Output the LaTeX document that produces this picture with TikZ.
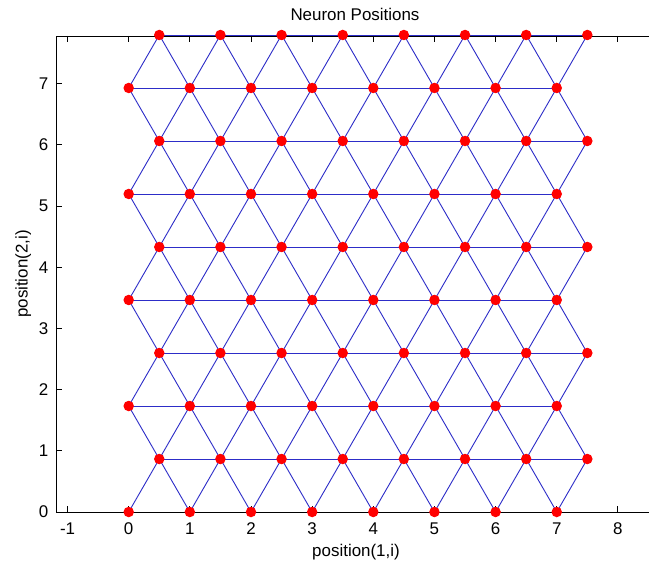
\documentclass[tikz,border=0pt]{standalone}
\usepackage{fontspec}
\setmainfont{Liberation Sans}
\pgfdeclarelayer{bg}
\pgfdeclarelayer{edges}
\pgfsetlayers{bg,edges,main}
\definecolor{edgeblue}{RGB}{45,45,200}
\tikzset{
  neuron/.style={circle,fill=red,inner sep=0pt,minimum size=10.5bp},
  edge/.style={draw=edgeblue,line width=0.9bp},
  axisline/.style={draw=black,line width=0.9bp},
  lbl/.style={inner sep=0pt,font=\fontsize{17}{19}\selectfont},
}
\begin{document}
\begin{tikzpicture}[x=1bp,y=-1bp]
\begin{pgfonlayer}{bg}
  \fill[white] (0,0) rectangle (649,565);
\end{pgfonlayer}
\useasboundingbox (0,0) rectangle (649,565);
% axes
\draw[axisline] (649,36) -- (56,36) -- (56,512) -- (649,512);
\foreach \x in {-1,...,8}{
  \pgfmathsetmacro\px{128.7+61.15*\x}
  \draw[axisline] (\px,512) -- (\px,506);
  \draw[axisline] (\px,36) -- (\px,42);
  \node[lbl,anchor=base] (xt\x) at (\px,534) {\x};
}
\foreach \y in {0,...,7}{
  \pgfmathsetmacro\py{512-61.2*\y}
  \draw[axisline] (56,\py) -- (62,\py);
  \node[lbl,anchor=east] (yt\y) at (48.5,\py) {\y};
}
\node[lbl,anchor=base] (title) at (355,21) {Neuron Positions};
\node[lbl,anchor=base] (xlab) at (356,556.5) {position(1,i)};
\node[lbl,anchor=base,rotate=90] (ylab) at (27.5,274) {position(2,i)};
% neurons
\foreach \j in {0,...,9}{
  \foreach \i in {0,...,7}{
    \pgfmathsetmacro\X{128.7+61.15*(\i+0.5*mod(\j,2))}
    \pgfmathsetmacro\Y{512-61.2*0.8660254*\j}
    \node[neuron] (n-\i-\j) at (\X,\Y) {};
  }
}
% connections
\begin{pgfonlayer}{edges}
\foreach \j in {0,...,9}{
  \foreach \i in {0,...,6}{
    \pgfmathtruncatemacro\k{\i+1}
    \draw[edge] (n-\i-\j.center) -- (n-\k-\j.center);
  }
}
\foreach \j in {0,...,8}{
  \pgfmathtruncatemacro\jn{\j+1}
  \pgfmathtruncatemacro\odd{mod(\j,2)}
  \foreach \i in {0,...,7}{
    \pgfmathtruncatemacro\a{\i+\odd-1}
    \pgfmathtruncatemacro\b{\i+\odd}
    \ifnum\a>-1 \draw[edge] (n-\i-\j.center) -- (n-\a-\jn.center);\fi
    \ifnum\b<8 \draw[edge] (n-\i-\j.center) -- (n-\b-\jn.center);\fi
  }
}
\end{pgfonlayer}
\end{tikzpicture}
\end{document}
